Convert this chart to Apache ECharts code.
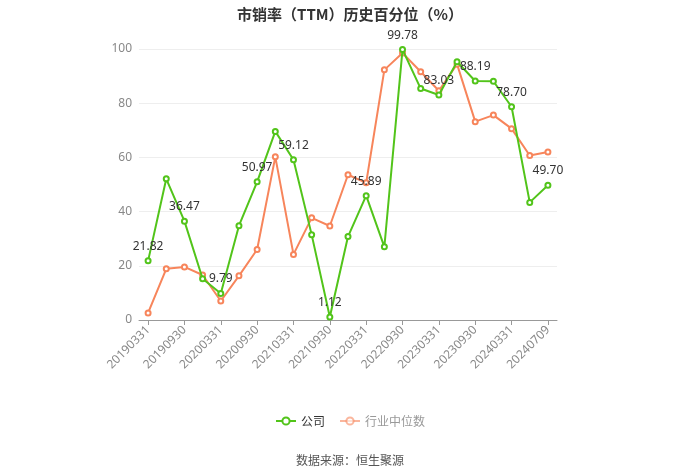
<!DOCTYPE html>
<html><head><meta charset="utf-8">
<script src="https://cdn.jsdelivr.net/npm/echarts@6/dist/echarts.min.js"></script>
<style>html,body{margin:0;padding:0;background:#fff}#c{width:700px;height:474px}</style>
</head><body><div id="c"></div>
<script>
var categories = ['20190331','20190630','20190930','20191231','20200331','20200630','20200930','20201231','20210331','20210630','20210930','20211231','20220331','20220630','20220930','20221231','20230331','20230630','20230930','20231231','20240331','20240630','20240709'];
var companyValues = [21.82,52.1,36.47,15.2,9.79,34.8,50.97,69.6,59.12,31.5,1.12,30.8,45.89,27.0,99.78,85.4,83.03,95.3,88.19,88.1,78.70,43.4,49.70];
var industryValues = [2.6,18.9,19.6,16.6,7.0,16.3,26.0,60.2,24.2,37.7,34.7,53.6,50.6,92.3,98.5,91.6,84.6,94.4,73.2,75.6,70.6,60.7,62.0];
var seriesNames = ['公司','行业中位数'];
var titleText = '市销率（TTM）历史百分位（%）';
var sourceText = '数据来源：恒生聚源';

var green = '#52c41a', orange = '#f7855b';
var chart = echarts.init(document.getElementById('c'));
chart.setOption({
  animation: false,
  title: [{text: titleText, left: 'center', top: 2, textStyle: {fontSize: 15, fontWeight: 'bold', color: '#333', fontFamily: 'Noto Sans CJK SC'}},
          {text: sourceText, left: 'center', top: 449, textStyle: {fontSize: 12, fontWeight: 'normal', color: '#555', fontFamily: 'Noto Sans CJK SC'}}],
  legend: {top: 410, left: 'center', itemWidth: 20, itemHeight: 9, itemGap: 14,
    textStyle: {fontSize: 12, color: '#333', fontFamily: 'Noto Sans CJK SC'},
    data: [{name: seriesNames[0]}, {name: seriesNames[1], textStyle: {color: '#999'}, itemStyle: {opacity: 0.6}, lineStyle: {opacity: 0.6}}]},
  grid: {left: 139, right: 143, top: 49, bottom: 154},
  xAxis: {type: 'category', data: categories, boundaryGap: true,
    axisLine: {lineStyle: {color: '#999'}}, axisTick: {show: true, interval: 1, alignWithLabel: true, lineStyle: {color: '#999'}},
    axisLabel: {interval: 1, rotate: 45, color: '#888', fontSize: 12, margin: 8, fontFamily: 'Noto Sans'}},
  yAxis: {type: 'value', min: 0, max: 100, interval: 20,
    axisLine: {show: false}, axisTick: {show: false},
    axisLabel: {color: '#888', fontSize: 12, margin: 7, fontFamily: 'Noto Sans'},
    splitLine: {lineStyle: {color: '#eee'}}},
  series: [
    {name: seriesNames[0], type: 'line', data: companyValues, color: green, symbol: 'emptyCircle', symbolSize: 5,
     lineStyle: {width: 2, color: green}, itemStyle: {color: green}, z: 3,
     label: {show: true, position: 'top', color: '#333', fontSize: 12, fontFamily: 'Noto Sans',
       formatter: function (p) { return p.dataIndex % 2 === 0 ? p.value.toFixed(2) : ''; }}},
    {name: seriesNames[1], type: 'line', data: industryValues, color: orange, symbol: 'emptyCircle', symbolSize: 5,
     lineStyle: {width: 2, color: orange}, itemStyle: {color: orange}, z: 2}
  ]
});
</script></body></html>
